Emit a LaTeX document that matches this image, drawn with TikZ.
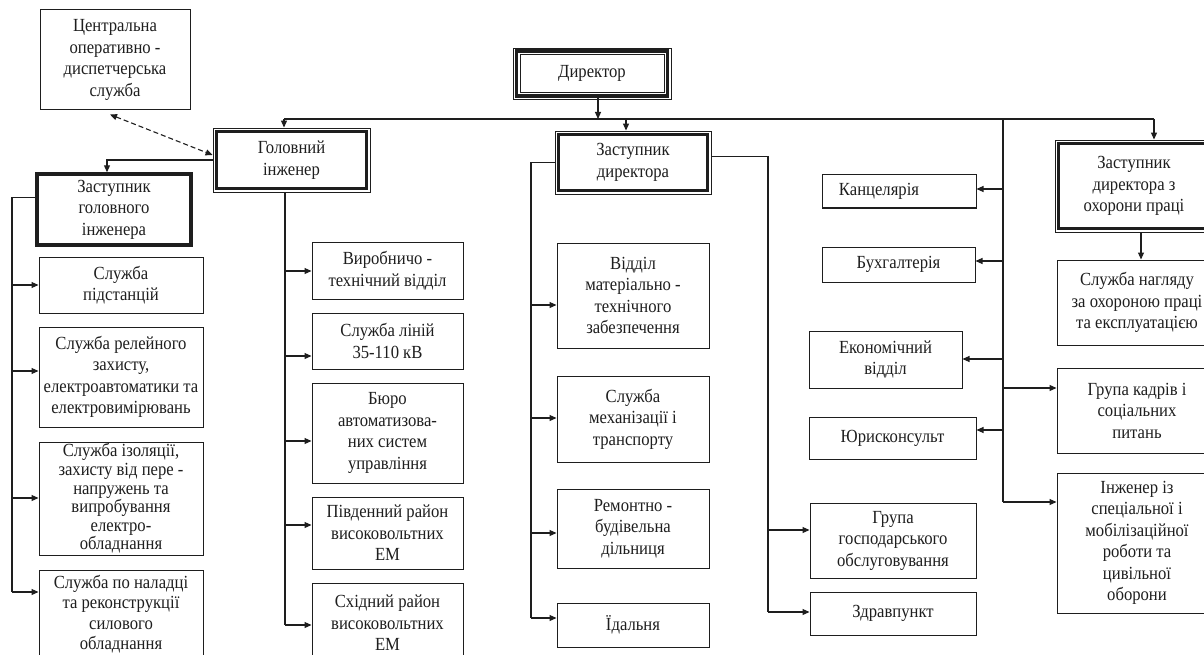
\documentclass[tikz,border=0pt]{standalone}
\usepackage{fontspec}
\setmainfont{Liberation Serif}[FakeStretch=0.9]
\usetikzlibrary{arrows.meta}
\definecolor{ink}{RGB}{30,30,30}
\begin{document}
\begin{tikzpicture}[x=1pt,y=-1pt,
  every node/.style={font=\fontsize{18.5pt}{21.5pt}\selectfont, text=ink},
  box/.style={draw=ink, line width=1pt, align=center, inner sep=0pt},
  thickbox/.style={box, line width=3.4pt},
  frame/.style={draw=ink, line width=0.9pt, inner sep=0pt},
  conn/.style={draw=ink, line width=1.1pt},
  arr/.style={conn, -{Triangle[length=7pt,width=6pt]}}]
\useasboundingbox (0,0) rectangle (1204,655);
\clip (0,0) rectangle (1204,655);
\fill[white] (0,0) rectangle (1204,655);

% top level
\node[box, minimum width=150pt, minimum height=100pt] (cods) at (115,60) {Центральна\\оперативно -\\диспетчерська\\служба};
\node[frame, minimum width=158pt, minimum height=51pt] (dirO) at (592,73.5) {};
\node[thickbox, minimum width=151pt, minimum height=45pt] (dir) at (592,73.5) {Директор};
\node[frame, minimum width=144pt, minimum height=38pt] (dirI) at (592,73.5) {};

\node[frame, minimum width=157pt, minimum height=64pt] (gio) at (291.5,160) {};
\node[thickbox, minimum width=150pt, minimum height=57pt] (gi) at (291.5,160) {Головний\\інженер};

\node[frame, minimum width=156pt, minimum height=63pt] (zdo) at (633,162.5) {};
\node[thickbox, minimum width=149pt, minimum height=56pt] (zd) at (633,162.5) {Заступник\\директора};

\node[frame, minimum width=158pt, minimum height=92pt] (zopo) at (1134,186) {};
\node[thickbox, minimum width=151pt, minimum height=85pt] (zop) at (1134,186) {Заступник\\директора з\\охорони праці};

\node[thickbox, minimum width=154pt, minimum height=71pt] (zgi) at (114,209.5) {Заступник\\головного\\інженера};

% left column
\node[box, minimum width=164pt, minimum height=56pt] (sp) at (121,285) {Служба\\підстанцій};
\node[box, minimum width=164pt, minimum height=100pt] (srz) at (121,377) {Служба релейного\\захисту,\\електроавтоматики та\\електровимірювань};
\node[box, minimum width=164pt, minimum height=113pt, font=\fontsize{18.5pt}{18.6pt}\selectfont] (siz) at (121,498.5) {Служба ізоляції,\\захисту від пере -\\напружень та\\випробування\\електро-\\обладнання};
\node[box, minimum width=164pt, minimum height=98pt] (snal) at (121,619) {};
\node[align=center, inner sep=0pt, font=\fontsize{18.5pt}{20.5pt}\selectfont] (snalt) at (121,614) {Служба по наладці\\та реконструкції\\силового\\обладнання};

% chief engineer column
\node[box, minimum width=151pt, minimum height=57pt] (vir) at (387.5,270.5) {Виробничо -\\технічний відділ};
\node[box, minimum width=151pt, minimum height=56pt] (sl) at (387.5,341) {Служба ліній\\35-110 кВ};
\node[box, minimum width=151pt, minimum height=100pt] (bur) at (387.5,433) {Бюро\\автоматизова-\\них систем\\управління};
\node[box, minimum width=151pt, minimum height=72pt] (pivd) at (387.5,533) {Південний район\\високовольтних\\ЕМ};
\node[box, minimum width=151pt, minimum height=80pt] (skh) at (387.5,623) {Східний район\\високовольтних\\ЕМ};

% deputy director column
\node[box, minimum width=152pt, minimum height=105pt] (vmt) at (633,295.5) {Відділ\\матеріально -\\технічного\\забезпечення};
\node[box, minimum width=152pt, minimum height=86pt] (smt) at (633,419) {Служба\\механізації і\\транспорту};
\node[box, minimum width=152pt, minimum height=79pt] (rem) at (633,528.5) {Ремонтно -\\будівельна\\дільниця};
\node[box, minimum width=152pt, minimum height=44pt] (id) at (633,625) {Їдальня};

% director's staff column
\node[box, minimum width=154pt, minimum height=33pt] (kanc) at (899,191.5) {Канцелярія\hspace*{40pt}};
\node[box, minimum width=153pt, minimum height=35pt] (bukh) at (898.5,264.5) {Бухгалтерія};
\node[box, minimum width=153pt, minimum height=57pt] (ek) at (885.5,359.5) {Економічний\\відділ};
\node[box, minimum width=167pt, minimum height=42pt] (yur) at (892.5,438) {Юрисконсульт};
\node[box, minimum width=166pt, minimum height=75pt] (gosp) at (893,540.5) {Група\\господарського\\обслуговування};
\node[box, minimum width=166pt, minimum height=43pt] (zdr) at (893,613.5) {Здравпункт};

% right column
\node[box, minimum width=160pt, minimum height=85pt] (snag) at (1137,302.5) {Служба нагляду\\за охороною праці\\та експлуатацією};
\node[box, minimum width=160pt, minimum height=85pt] (kadr) at (1137,410.5) {Група кадрів і\\соціальних\\питань};
\node[box, minimum width=160pt, minimum height=140pt] (inzh) at (1137,543) {Інженер із\\спеціальної і\\мобілізаційної\\роботи та\\цивільної\\оборони};

% bus
\coordinate (busL) at (284,119);
\coordinate (busZD) at (626,119);
\coordinate (busRB) at (1003,119);
\coordinate (busR) at (1154,119);
\draw[conn] (busL) -- (busR);
\draw[arr] ([xshift=6pt]dir.south) -- ([xshift=6pt]dir.south |- busL);
\draw[arr] (busL) -- (busL |- gio.north);
\draw[arr] (busZD) -- (busZD |- zdo.north);
\draw[arr] (busR) -- (busR |- zopo.north);

% dispatch link
\draw[conn, dash pattern=on 5pt off 3pt, {Triangle[length=7pt,width=6pt]}-{Triangle[length=7pt,width=6pt]}] ([xshift=-5pt,yshift=-4pt]cods.south) -- ([yshift=5pt]gio.west);

% chief engineer -> deputy chief engineer
\draw[arr] (gio.west) -| ([xshift=-7pt]zgi.north);

% deputy chief engineer -> left column
\draw[conn] ([yshift=12pt]zgi.west) -| (12,592);
\draw[arr] (12,285) -- (sp.west |- 0,285);
\draw[arr] (12,371) -- (srz.west |- 0,371);
\draw[arr] (12,498) -- (siz.west |- 0,498);
\draw[arr] (12,592) -- (snal.west |- 0,592);

% chief engineer -> his column
\draw[conn] (gio.south -| 285,0) -- (285,625);
\draw[arr] (285,271) -- (vir.west |- 0,271);
\draw[arr] (285,356) -- (sl.west |- 0,356);
\draw[arr] (285,441) -- (bur.west |- 0,441);
\draw[arr] (285,525) -- (pivd.west |- 0,525);
\draw[arr] (285,625) -- (skh.west |- 0,625);

% deputy director -> left column
\draw[conn] (zdo.west) -| (531,618);
\draw[arr] (531,305) -- (vmt.west |- 0,305);
\draw[arr] (531,418) -- (smt.west |- 0,418);
\draw[arr] (531,533) -- (rem.west |- 0,533);
\draw[arr] (531,618) -- (id.west |- 0,618);

% deputy director -> right
\draw[conn] ([yshift=6pt]zdo.east) -| (768,612);
\draw[arr] (768,530) -- (gosp.west |- 0,530);
\draw[arr] (768,612) -- (zdr.west |- 0,612);

% director's staff bus
\draw[conn] (busRB) -- (1003,502);
\draw[arr] (1003,189) -- (kanc.east |- 0,189);
\draw[arr] (1003,261) -- (bukh.east |- 0,261);
\draw[arr] (1003,359) -- (ek.east |- 0,359);
\draw[arr] (1003,430) -- (yur.east |- 0,430);
\draw[arr] (1003,388) -- (kadr.west |- 0,388);
\draw[arr] (1003,502) -- (inzh.west |- 0,502);

% labour safety
\draw[arr] (zopo.south -| 1141,0) -- (snag.north -| 1141,0);
\end{tikzpicture}
\end{document}
